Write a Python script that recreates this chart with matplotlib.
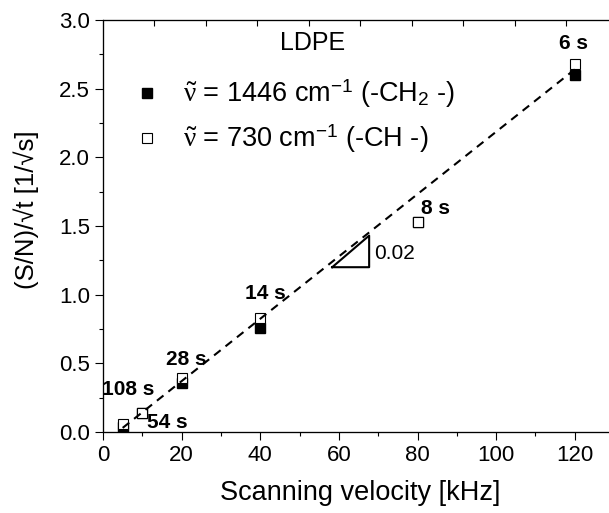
import numpy as np
import matplotlib
matplotlib.use("Agg")
import matplotlib.pyplot as plt

plt.rcParams["font.family"] = ["Liberation Sans", "DejaVu Sans"]
plt.rcParams["mathtext.fontset"] = "custom"
plt.rcParams["mathtext.rm"] = "Liberation Sans"
plt.rcParams["mathtext.it"] = "Liberation Serif"
plt.rcParams["mathtext.bf"] = "Liberation Sans:bold"

FONT_SIZE = 15

# data
velocity = [5, 10, 20, 40, 80, 120]
sn_1446 = [0.04, 0.14, 0.355, 0.76, 1.53, 2.60]
sn_730 = [0.06, 0.14, 0.39, 0.83, 1.53, 2.68]

fit_x = [5, 120]
fit_y = [0.03, 2.64]

time_labels = ["108 s", "54 s", "28 s", "14 s", "8 s", "6 s"]
label_x = [6.4, 16.3, 21.1, 41.2, 84.5, 119.7]
label_y = [0.31, 0.07, 0.53, 1.01, 1.63, 2.83]

slope_tri_x = [58.3, 67.7, 67.7, 58.3]
slope_tri_y = [1.20, 1.20, 1.43, 1.20]

fig = plt.figure(figsize=(6.09, 5.13), dpi=100)
# right spine sits just outside the picture, as in the original
ax = fig.add_axes([103 / 609, 81 / 513, 515 / 609, 412 / 513])

ax.plot(velocity, sn_1446, "s", ms=7.5, color="black", mec="black",
        label=r"$\tilde{\nu}$ = 1446 cm$^{-1}$ (-CH$_2$ -)", zorder=3)
ax.plot(velocity, sn_730, "s", ms=7.5, mfc="white", mec="black", mew=0.8,
        label=r"$\tilde{\nu}$ = 730 cm$^{-1}$ (-CH -)", zorder=4)
ax.plot(fit_x, fit_y, color="black", lw=1.5, dashes=(4, 3), zorder=5)

# slope triangle
ax.plot(slope_tri_x, slope_tri_y, color="black", lw=1.5, zorder=5)
ax.text(69.0, 1.30, "0.02", fontsize=FONT_SIZE, va="center", ha="left")

for txt, tx, ty in zip(time_labels, label_x, label_y):
    ax.text(tx, ty, txt, fontsize=FONT_SIZE, fontweight="bold", ha="center", va="center", zorder=6)

ax.text(53.4, 2.83, "LDPE", fontsize=18, ha="center", va="center")

ax.set_xlim(0, 131)
ax.set_ylim(0, 3.0)
ax.set_xticks(np.arange(0, 121, 20))
ax.set_xticks(np.arange(10, 131, 20), minor=True)
ax.set_yticks(np.arange(0, 3.01, 0.5))
ax.set_yticks(np.arange(0.25, 3.0, 0.5), minor=True)
ax.yaxis.set_major_formatter(matplotlib.ticker.FormatStrFormatter("%.1f"))
ax.tick_params(which="major", direction="out", length=6, width=0.8, labelsize=FONT_SIZE + 1)
ax.tick_params(which="minor", direction="out", length=3, width=0.8)
ax.set_xlabel("Scanning velocity [kHz]", fontsize=19.5, labelpad=10)
ax.set_ylabel("(S/N)/√t [1/√s]", fontsize=18.5)
ax.yaxis.set_label_coords(-0.125, 0.54)

# box ticks on top and right
top = ax.twiny()
top.set_xlim(0, 10)
top.set_xticks(np.arange(1, 10))
top.tick_params(axis="x", direction="in", length=4, width=0.8, labeltop=False)
right = ax.twinx()
right.set_ylim(0, 5)
right.set_yticks(np.arange(1, 5))
right.tick_params(axis="y", direction="in", length=4, width=0.8, labelright=False)

for a in (ax, top, right):
    for s in a.spines.values():
        s.set_linewidth(0.8)

ax.legend(loc="upper left", bbox_to_anchor=(0.06, 0.859), frameon=False, fontsize=19.5,
          handlelength=1.0, handletextpad=0.83, labelspacing=0.45, borderaxespad=0, borderpad=0)

plt.savefig("out.png", dpi=100)
plt.close()
